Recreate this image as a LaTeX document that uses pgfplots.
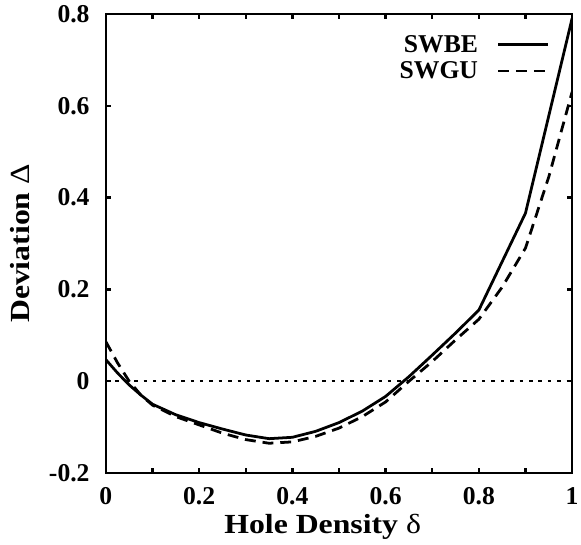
\documentclass[border=0pt]{standalone}
\usepackage{pgfplots}
\pgfplotsset{compat=1.18}
\usepackage{fontspec}
\setmainfont{Liberation Serif}
\newfontfamily\widefont[FakeStretch=1.15]{Liberation Serif}
\begin{document}
\begin{tikzpicture}[x=1bp,y=1bp]
\begin{axis}[
  at={(0,0)}, anchor=south west,
  scale only axis,
  width=471bp, height=464bp,
  xmin=0, xmax=1, ymin=-0.2, ymax=0.8,
  xtick={0,0.1,0.2,0.3,0.4,0.5,0.6,0.7,0.8,0.9,1},
  xticklabels={0,,0.2,,0.4,,0.6,,0.8,,1},
  ytick={-0.2,0,0.2,0.4,0.6,0.8},
  yticklabels={-0.2,0,0.2,0.4,0.6,0.8},
  tick align=inside,
  major tick length=5bp,
  axis line style={line width=2.6bp},
  every tick/.style={line width=2.4bp, black},
  tick label style={font=\fontsize{26}{26}\selectfont\bfseries},
  xticklabel style={yshift=-11bp},
  yticklabel style={xshift=-13bp},
  xlabel={Hole Density \textmd{δ}},
  ylabel={Deviation \textmd{Δ}},
  every axis x label/.style={at={(axis description cs:0.465,-0.118)}, anchor=center, font=\widefont\fontsize{28}{28}\selectfont\bfseries},
  every axis y label/.style={at={(axis description cs:-0.185,0.5)}, rotate=90, anchor=center, font=\widefont\fontsize{28}{28}\selectfont\bfseries},
  /pgf/number format/assume math mode=true,
  legend style={at={(rel axis cs:0.951,0.958)}, anchor=north east, draw=none, fill=none,
     inner sep=0pt, column sep=17bp,
     font=\fontsize{26}{22}\selectfont\bfseries, row sep=4bp},
  legend cell align=right,
  legend plot pos=right,
  legend image code/.code={\draw[#1] (0bp,0bp) -- (50bp,0bp);},
]
\addplot[black, line width=2.8bp] coordinates {
(0,0.047) (0.025,0.018) (0.05,-0.008) (0.075,-0.03) (0.1,-0.05) (0.15,-0.073) (0.2,-0.09) (0.25,-0.104) (0.3,-0.117) (0.35,-0.125) (0.4,-0.122) (0.45,-0.109) (0.5,-0.09) (0.55,-0.065) (0.6,-0.033) (0.65,0.01) (0.7,0.057) (0.75,0.105) (0.8,0.155) (0.9,0.366) (1,0.79)
};
\addlegendentry{SWBE}
\addplot[black, line width=2.8bp, dash pattern=on 11bp off 7bp] coordinates {
(0,0.086) (0.025,0.04) (0.05,0.0) (0.075,-0.03) (0.1,-0.052) (0.15,-0.077) (0.2,-0.095) (0.25,-0.113) (0.3,-0.127) (0.35,-0.135) (0.4,-0.132) (0.45,-0.12) (0.5,-0.102) (0.55,-0.077) (0.6,-0.045) (0.65,0.0) (0.7,0.043) (0.75,0.09) (0.8,0.135) (0.85,0.205) (0.9,0.29) (0.95,0.445) (1,0.63)
};
\addlegendentry{SWGU}
\addplot[black, line width=1.8bp, dash pattern=on 3.5bp off 6bp, forget plot] coordinates {(0,0) (1,0)};
\end{axis}
\pgfresetboundingbox
\path (-107bp,-72bp) rectangle (480bp,478bp);
\end{tikzpicture}
\end{document}
